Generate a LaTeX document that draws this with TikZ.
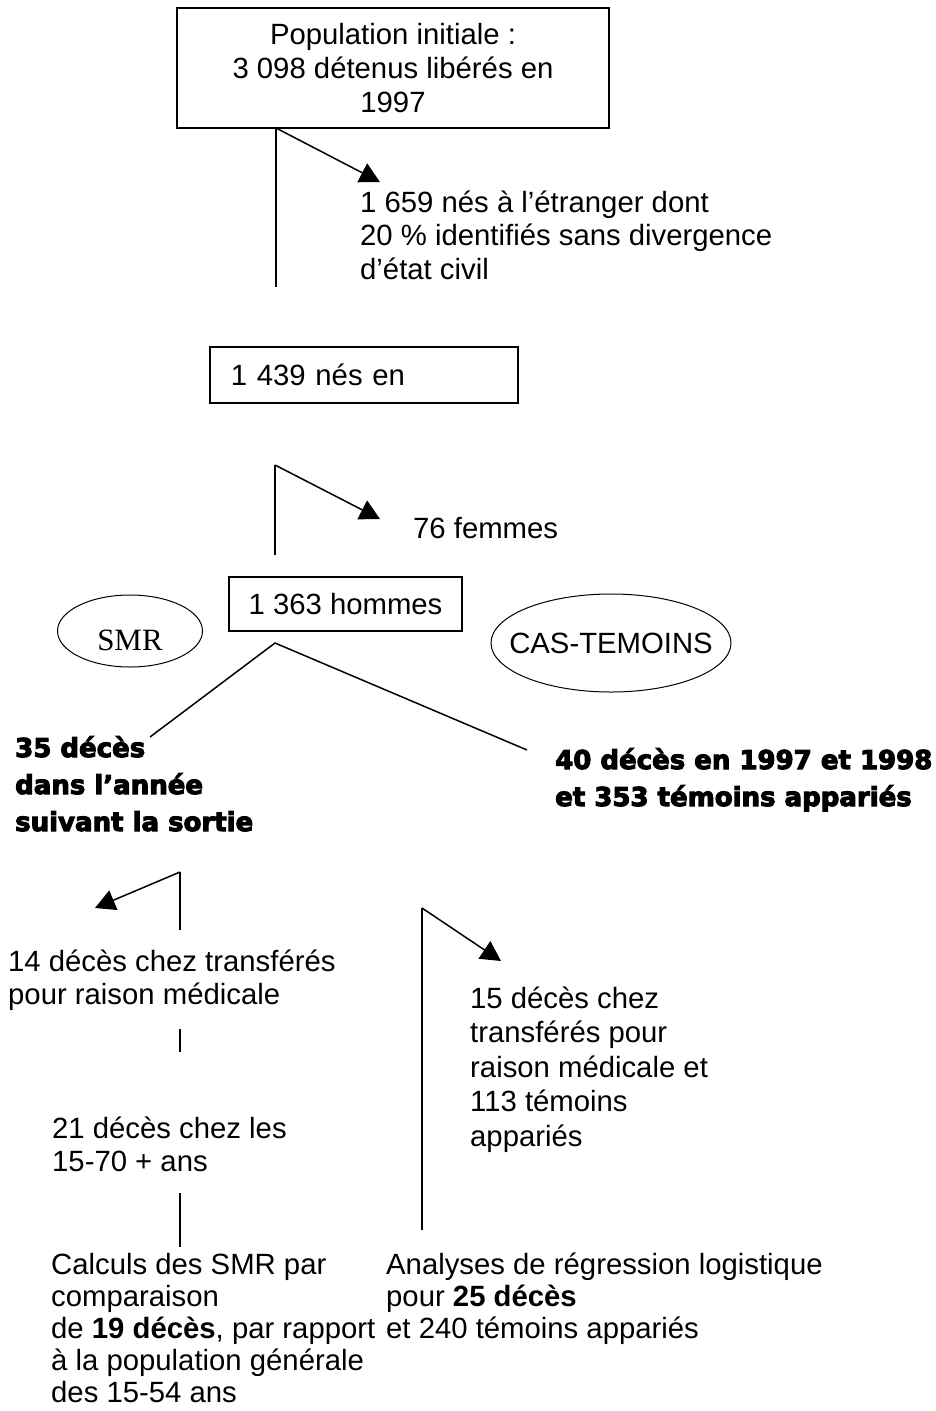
\documentclass[tikz,border=0pt]{standalone}
\usepackage{fontspec}
\setmainfont{Liberation Sans}
\newfontfamily\serifface{Liberation Serif}
\newfontfamily\heavyface{DejaVu Sans}[FakeBold=4]
\usetikzlibrary{arrows.meta,shapes.geometric}
\tikzset{
  ln/.style={line width=1.5pt},
  arr/.style={line width=1.5pt, -{Triangle[length=20pt,width=21pt]}},
  txt/.style={font=\fontsize{29.3}{33.5}\selectfont, inner sep=0pt, align=left, anchor=base west},
  heavy/.style={font=\heavyface\bfseries\fontsize{26}{37}\selectfont, inner sep=0pt, align=left, anchor=base west},
  boxed/.style={draw, line width=1.5pt, font=\fontsize{29.3}{34}\selectfont},
  oval/.style={draw, ellipse, line width=1pt, inner sep=0pt},
}
\begin{document}
\begin{tikzpicture}[x=1pt,y=-1pt]
\path[use as bounding box] (0,0) rectangle (935,1411);
% boxes and ovals
\node[boxed, minimum width=432pt, minimum height=120pt, align=center] (top) at (393,68) {Population initiale :\\3 098 détenus libérés en\\1997};
\node[txt] (etr) at (360,279) {1 659 nés à l’étranger dont\\20 \% identifiés sans divergence\\d’état civil};
\node[boxed, anchor=west, minimum height=56pt, inner xsep=21pt, text width=266pt, align=left] (b2) at (209,375) {1 439 nés en};
\node[txt] (fem) at (413,538) {76 femmes};
\node[boxed, minimum width=233pt, minimum height=54pt] (b3) at (345.5,604) {1 363 hommes};
\node[oval, minimum width=145pt, minimum height=72pt, font=\serifface\fontsize{31}{36}\selectfont, text height=38pt, text depth=0pt] (smr) at (130,631) {SMR};
\node[inner sep=0pt, font=\fontsize{29.3}{34}\selectfont, text depth=0pt] (cas) at (611,643) {CAS-TEMOINS};
\draw[line width=1pt] (cas.center) ellipse [x radius=120pt, y radius=49pt];
% bold results
\node[heavy] (d35) at (15,831) {35 décès\\dans l’année\\suivant la sortie};
\node[heavy] (d40) at (555,806) {40 décès en 1997 et 1998\\et 353 témoins appariés};
% lower texts
\node[txt] (d14) at (8,1004.5) {14 décès chez transférés\\pour raison médicale};
\node[txt] (d21) at (52,1171.5) {21 décès chez les\\15-70 + ans};
\node[txt, font=\fontsize{29.3}{34.5}\selectfont] (d15) at (470,1146) {15 décès chez\\transférés pour\\raison médicale et\\113 témoins\\appariés};
\node[txt, font=\fontsize{29.3}{32}\selectfont] (calc) at (51,1402) {Calculs des SMR par\\comparaison\\de \textbf{19 décès}, par rapport\\à la population générale\\des 15-54 ans};
\node[txt, font=\fontsize{29.3}{32}\selectfont] (anal) at (386,1338) {Analyses de régression logistique\\pour \textbf{25 décès}\\et 240 témoins appariés};
% connector points
\coordinate (a1) at (276,128);
\coordinate (a1e) at (276,287);
\coordinate (a1t) at (380,182);
\coordinate (a2) at (275,465);
\coordinate (a2e) at (275,555);
\coordinate (a2t) at (380,519);
\coordinate (ap) at (275,643);
\coordinate (apl) at (150,737);
\coordinate (apr) at (527,750);
\coordinate (a3) at (180,872);
\coordinate (a3e) at (180,930);
\coordinate (a3t) at (95,908);
\coordinate (s1a) at (180,1029);
\coordinate (s1b) at (180,1052);
\coordinate (s2a) at (180,1193);
\coordinate (s2b) at (180,1247);
\coordinate (a4) at (422,908);
\coordinate (a4e) at (422,1230);
\coordinate (a4t) at (501,961);
% connectors
\draw[ln] (a1) -- (a1e);
\draw[arr] (a1) -- (a1t);
\draw[ln] (a2) -- (a2e);
\draw[arr] (a2) -- (a2t);
\draw[ln] (apl) -- (ap) -- (apr);
\draw[ln] (a3) -- (a3e);
\draw[arr] (a3) -- (a3t);
\draw[ln] (s1a) -- (s1b);
\draw[ln] (s2a) -- (s2b);
\draw[ln] (a4) -- (a4e);
\draw[arr] (a4) -- (a4t);
\end{tikzpicture}
\end{document}
